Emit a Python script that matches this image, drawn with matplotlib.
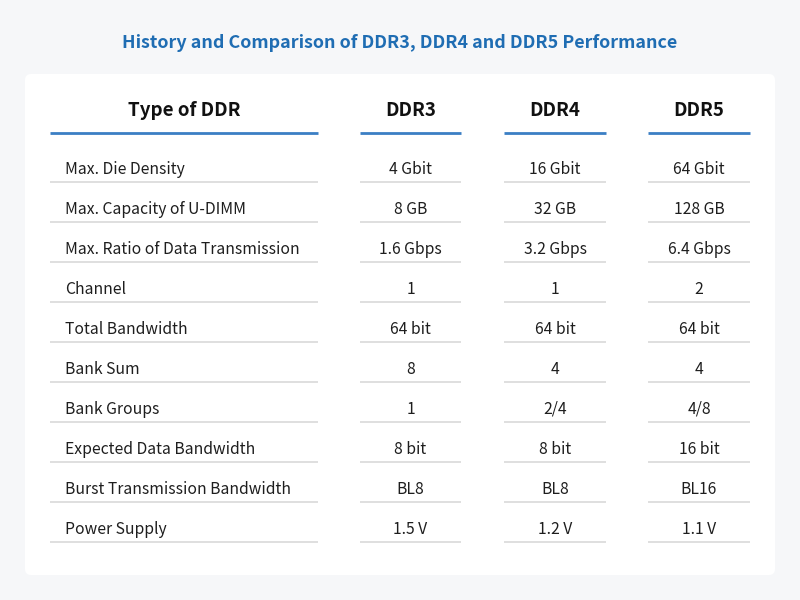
import matplotlib.pyplot as plt
from matplotlib.patches import FancyBboxPatch

plt.rcParams['font.family'] = ['Noto Sans CJK SC', 'DejaVu Sans']

title = "History and Comparison of DDR3, DDR4 and DDR5 Performance"
headers = ["Type of DDR", "DDR3", "DDR4", "DDR5"]
rows = ["Max. Die Density", "Max. Capacity of U-DIMM", "Max. Ratio of Data Transmission",
        "Channel", "Total Bandwidth", "Bank Sum", "Bank Groups",
        "Expected Data Bandwidth", "Burst Transmission Bandwidth", "Power Supply"]
ddr3 = ["4 Gbit", "8 GB", "1.6 Gbps", "1", "64 bit", "8", "1", "8 bit", "BL8", "1.5 V"]
ddr4 = ["16 Gbit", "32 GB", "3.2 Gbps", "1", "64 bit", "4", "2/4", "8 bit", "BL8", "1.2 V"]
ddr5 = ["64 Gbit", "128 GB", "6.4 Gbps", "2", "64 bit", "4", "4/8", "16 bit", "BL16", "1.1 V"]

blue = '#1f6db3'
line_blue = '#3b7fc4'
grey = '#dcdcdc'

fig = plt.figure(figsize=(8, 6), dpi=100, facecolor='#f6f7f9')
ax = fig.add_axes([0, 0, 1, 1])
ax.set_xlim(0, 800)
ax.set_ylim(600, 0)
ax.axis('off')

ax.add_patch(FancyBboxPatch((25, 74), 750, 501, boxstyle='round,pad=0,rounding_size=6',
                            facecolor='white', edgecolor='none'))

ax.text(400, 43, title, ha='center', va='center', fontsize=12.9, fontweight='bold', color=blue)

# column spans (left, right)
cols = [(50, 318), (360, 461), (504, 606), (648, 750)]

for (x0, x1), h in zip(cols, headers):
    ax.text((x0 + x1) / 2, 111, h, ha='center', va='center', fontsize=13.5,
            fontweight='bold', color='#111111')
    ax.plot([x0, x1], [133, 133], color=line_blue, lw=2, solid_capstyle='butt')

for i, name in enumerate(rows):
    y = 168 + 40 * i
    ax.text(65, y + 1.5, name, ha='left', va='center', fontsize=11.3, color='#1e1e1e')
    for (x0, x1), val in zip(cols[1:], (ddr3[i], ddr4[i], ddr5[i])):
        ax.text((x0 + x1) / 2, y + 1.5, val, ha='center', va='center', fontsize=11.3, color='#1e1e1e')
    for x0, x1 in cols:
        ax.plot([x0, x1], [y + 14, y + 14], color=grey, lw=1.3, solid_capstyle='butt')

fig.savefig('out.png', dpi=100, facecolor=fig.get_facecolor())
